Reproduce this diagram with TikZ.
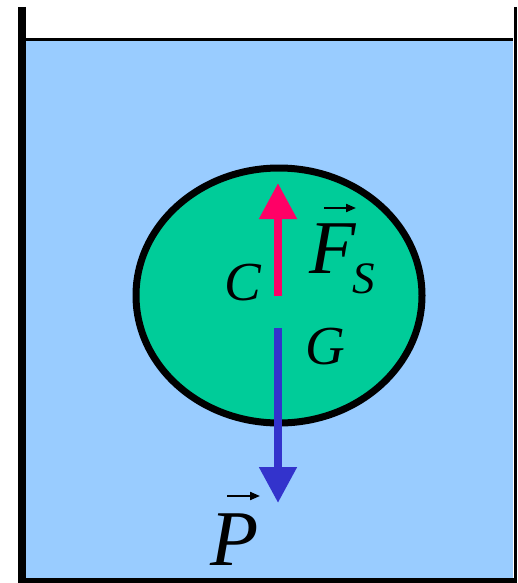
\documentclass[tikz,border=0pt]{standalone}
\usepackage{fontspec}
\setmainfont{Liberation Serif}
\usetikzlibrary{arrows.meta,shapes.geometric}
\definecolor{water}{HTML}{99CCFF}
\definecolor{body}{HTML}{00CC99}
\definecolor{forcered}{HTML}{FF0066}
\definecolor{forceblue}{HTML}{3333CC}
\tikzset{
  lbl/.style={inner sep=0pt, anchor=base west, font=\itshape},
  force/.style={line width=8pt, -{Triangle[width=36pt,length=36pt]}},
  vecarrow/.style={line width=2pt, -{Triangle[width=8pt,length=10pt]}}
}
\begin{document}
\begin{tikzpicture}[x=1pt,y=-1pt]
\useasboundingbox (0,0) rectangle (518,583);
% water
\fill[water] (26,41) rectangle (513,578);
\draw[line width=2.5pt] (26,39.5) -- (513,39.5);
% container walls
\draw[line width=8pt] (22,7) -- (22,583);
\draw[line width=3pt] (515,7) -- (515,583);
\draw[line width=5pt] (18,580.5) -- (517,580.5);
% body
\node[draw, line width=7pt, fill=body, ellipse, minimum width=286pt, minimum height=255pt, inner sep=0pt] (ball) at (279,295.5) {};
% forces
\coordinate (ctail) at (278,296);
\coordinate (chead) at (278,183);
\coordinate (gtail) at (278,328);
\coordinate (ghead) at (278,503);
\draw[force, forcered] (ctail) -- (chead);
\draw[force, forceblue] (gtail) -- (ghead);
% labels
\node[lbl, font=\fontsize{55}{55}\selectfont\itshape] (c) at (224,300) {C};
\node[lbl, font=\fontsize{55}{55}\selectfont\itshape] (g) at (305,364) {G};
\node[lbl, font=\fontsize{76}{76}\selectfont\itshape] (f) at (309,273) {F};
\node[lbl, font=\fontsize{45}{45}\selectfont\itshape] (s) at (352,293) {S};
\node[lbl, font=\fontsize{79}{79}\selectfont\itshape] (p) at (210,565) {P};
\coordinate (fa1) at (324,208);
\coordinate (fa2) at (356,208);
\coordinate (pa1) at (227,496);
\coordinate (pa2) at (260,496);
\draw[vecarrow] (fa1) -- (fa2);
\draw[vecarrow] (pa1) -- (pa2);
\end{tikzpicture}
\end{document}
